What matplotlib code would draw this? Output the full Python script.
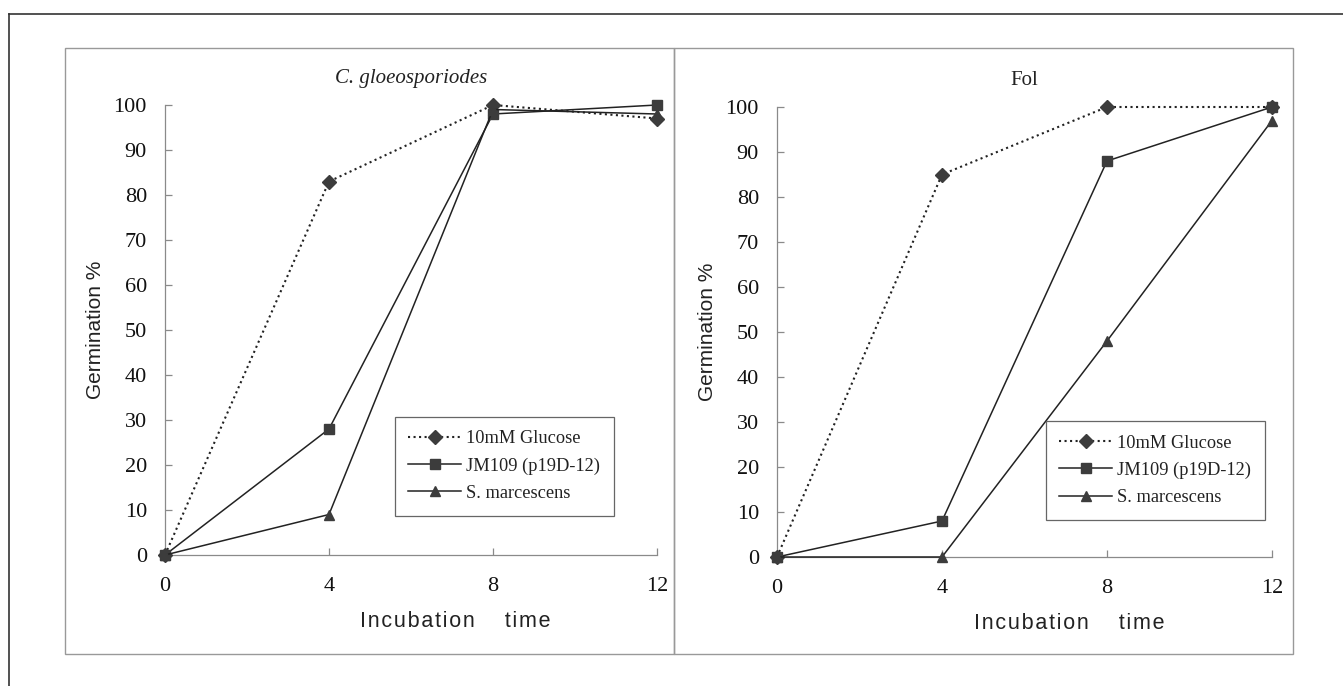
import numpy as np
import matplotlib.pyplot as plt
from matplotlib.lines import Line2D
from matplotlib.patches import Rectangle

W, H = 1343, 686

# === Data ===
hours = [0, 4, 8, 12]
series_names = ["10mM Glucose", "JM109 (p19D-12)", "S. marcescens"]

cg_glucose = [0, 83, 100, 97]
cg_jm109 = [0, 28, 98, 100]
cg_smarc = [0, 9, 99, 98]

fol_glucose = [0, 85, 100, 100]
fol_jm109 = [0, 8, 88, 100]
fol_smarc = [0, 0, 48, 97]

y_ticks = list(range(0, 101, 10))

SERIF = ['Liberation Serif', 'DejaVu Serif']
SANS = ['Liberation Sans', 'DejaVu Sans']
MK = '#3c3c3c'
SP = '#8a8a8a'


def px(x, y):
    # pixel coords (from top-left) -> figure fraction
    return x / W, 1 - y / H


def panel(ax, glu, jm, sm, title, title_style, leg_anchor):
    styles = [(':', 'D', 7), ('-', 's', 7), ('-', '^', 7)]
    for vals, (ls, m, ms), name in zip([glu, jm, sm], styles, series_names):
        ax.plot(hours, vals, linestyle=ls, color='#222222', linewidth=1.5 if ls == ':' else 1.1,
                marker=m, markersize=ms, markerfacecolor=MK, markeredgecolor=MK,
                label=name, clip_on=False, zorder=3)

    ax.set_xlim(0, 12)
    ax.set_ylim(0, 100)
    ax.set_xticks(hours)
    ax.set_yticks(y_ticks)
    for s in ['top', 'right']:
        ax.spines[s].set_visible(False)
    for s in ['left', 'bottom']:
        ax.spines[s].set_color(SP)
        ax.spines[s].set_linewidth(0.9)
    ax.tick_params(direction='in', length=5, color=SP, width=0.9, pad=13,
                   labelsize=16, labelcolor='#111111')
    ax.tick_params(axis='x', pad=16)
    for lab in ax.get_xticklabels() + ax.get_yticklabels():
        lab.set_family(SERIF)

    ax.set_ylabel('Germination %', family=SANS, fontsize=15, labelpad=6, color='#222222')
    sp = '\u200a'
    ax.set_xlabel(sp.join('Incubation') + '     ' + sp.join('time'),
                  family=SANS, fontsize=15.5, color='#222222')
    ax.xaxis.set_label_coords(0.59, -0.125)
    ax.set_title(title, family=SERIF, fontsize=15, style=title_style, pad=16, color='#222222')

    leg = ax.legend(loc='upper left', bbox_to_anchor=leg_anchor, handlelength=2.9,
                    handletextpad=0.25, borderpad=0.75, labelspacing=0.55, fancybox=False,
                    framealpha=1, edgecolor='#666666', prop={'family': SERIF, 'size': 13.2})
    leg.get_frame().set_linewidth(0.9)
    for t in leg.get_texts():
        t.set_color('#222222')


fig = plt.figure(figsize=(W / 100, H / 100), dpi=100)

# outer frame (left and top edges visible)
fig.add_artist(Line2D([9 / W, 9 / W], [0, 1 - 14 / H], color='#333333', linewidth=1.2))
fig.add_artist(Line2D([9 / W, 1], [1 - 14 / H, 1 - 14 / H], color='#333333', linewidth=1.2))

# panel boxes
for x0, x1 in [(65, 674), (674, 1293)]:
    fx0, fy1 = px(x0, 48)
    fx1, fy0 = px(x1, 654)
    fig.add_artist(Rectangle((fx0, fy0), fx1 - fx0, fy1 - fy0, transform=fig.transFigure,
                             fill=False, edgecolor='#999999', linewidth=1.0))

ax1 = fig.add_axes([165 / W, 131 / H, 492 / W, 450 / H])
ax2 = fig.add_axes([777 / W, 129 / H, 495 / W, 450 / H])

panel(ax1, cg_glucose, cg_jm109, cg_smarc, 'C. gloeosporiodes', 'italic', (0.448, 0.328))
panel(ax2, fol_glucose, fol_jm109, fol_smarc, 'Fol', 'normal', (0.524, 0.323))

plt.savefig('out.png', dpi=100)
